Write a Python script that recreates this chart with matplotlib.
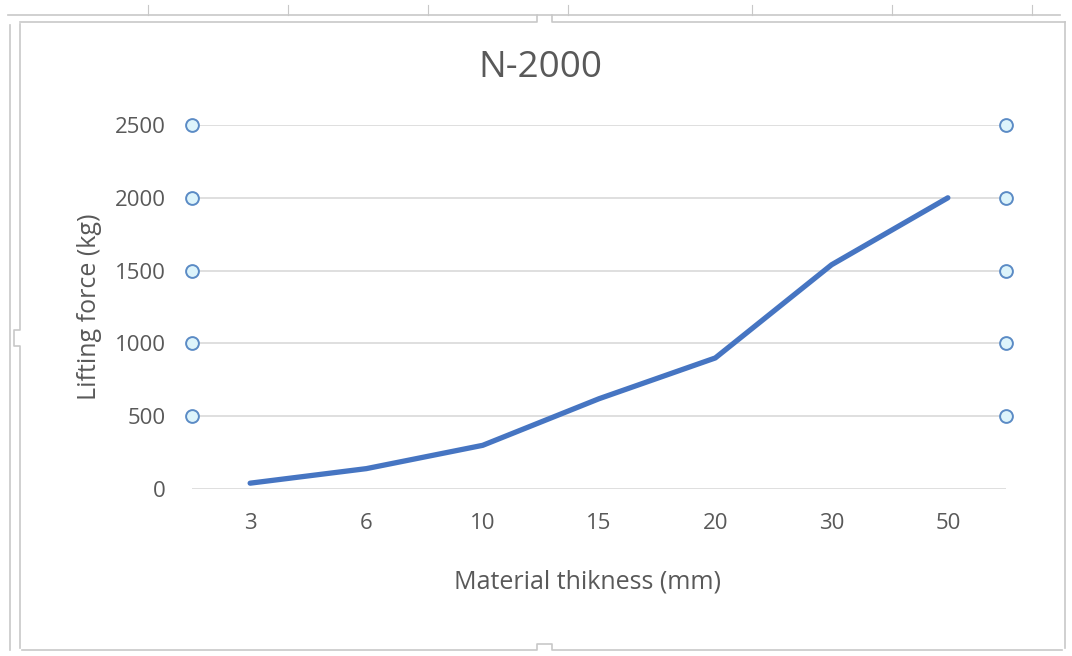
import matplotlib
matplotlib.use("Agg")
import matplotlib.pyplot as plt
import numpy as np

# chart data
thickness = ["3", "6", "10", "15", "20", "30", "50"]
force = [40, 140, 300, 620, 900, 1540, 2000]
yticks = [0, 500, 1000, 1500, 2000, 2500]

title = "N-2000"
xlabel = "Material thikness (mm)"
ylabel = "Lifting force (kg)"

plt.rcParams['font.family'] = ['Open Sans', 'DejaVu Sans']
textColor = "#595959"
gridColor = "#D9D9D9"
lineColor = "#4675C2"

W, H = 1072, 656
fig = plt.figure(figsize=(W / 100, H / 100), dpi=100)
fig.patch.set_facecolor("white")

# overlay in pixel coords for the excel selection frame
frame = fig.add_axes([0, 0, 1, 1], zorder=0)
frame.set_xlim(0, W)
frame.set_ylim(H, 0)
frame.axis("off")
fc = "#C8C8C8"
frame.plot([8, 537], [15, 15], color=fc, lw=1.2)
frame.plot([552, 1060], [15, 15], color=fc, lw=1.2)
for tx in [148, 288, 428, 568, 752, 892, 1032]:
    frame.plot([tx, tx], [5, 15], color=fc, lw=0.8)
frame.plot([20, 537, 537, 552, 552, 1065], [22, 22, 15, 15, 22, 22], color=fc, lw=1.2)
frame.plot([1065, 1065], [22, 648], color=fc, lw=1.2)
frame.plot([22, 537, 537, 552, 552, 1062], [650, 650, 644, 644, 650, 650], color=fc, lw=1.2)
frame.plot([20, 20, 14, 14, 20, 20], [24, 330, 330, 346, 346, 648], color=fc, lw=1.2)
frame.plot([10, 10], [25, 650], color=fc, lw=1.2)

# titles placed relative to the chart area, like excel does
frame.text(540, 68, title, fontsize=26.5, color=textColor, ha="center", va="center")
frame.text(588, 582, xlabel, fontsize=18, color=textColor, ha="center", va="center")
frame.text(90, 307, ylabel, fontsize=18, color=textColor, ha="center", va="center", rotation=90)

ax = fig.add_axes([192 / W, 1 - 489 / H, (1006 - 192) / W, (489 - 125) / H], zorder=1)
ax.patch.set_alpha(0)
x = np.arange(len(thickness))
ax.set_xlim(-0.5, len(thickness) - 0.5)
ax.set_ylim(0, 2500)

for t in yticks:
    ax.axhline(t, color=gridColor, lw=1.2, zorder=1)

ax.plot(x, force, color=lineColor, lw=3.8, solid_capstyle="round", solid_joinstyle="round", zorder=3)

# gridline selection handles
hy = yticks[1:]
ax.scatter([-0.5] * len(hy), hy, s=85, facecolor="#DDF4FB", edgecolor="#5B8BC5", lw=1.4, zorder=4, clip_on=False)
ax.scatter([len(thickness) - 0.5] * len(hy), hy, s=85, facecolor="#DDF4FB", edgecolor="#5B8BC5", lw=1.4, zorder=4, clip_on=False)

for s in ax.spines.values():
    s.set_visible(False)

ax.set_xticks(x)
ax.set_xticklabels(thickness)
ax.set_yticks(yticks)
ax.tick_params(axis="both", length=0, labelsize=16, colors=textColor)
ax.tick_params(axis="x", pad=17)
ax.tick_params(axis="y", pad=19)

fig.savefig("out.png", dpi=100, facecolor="white")
